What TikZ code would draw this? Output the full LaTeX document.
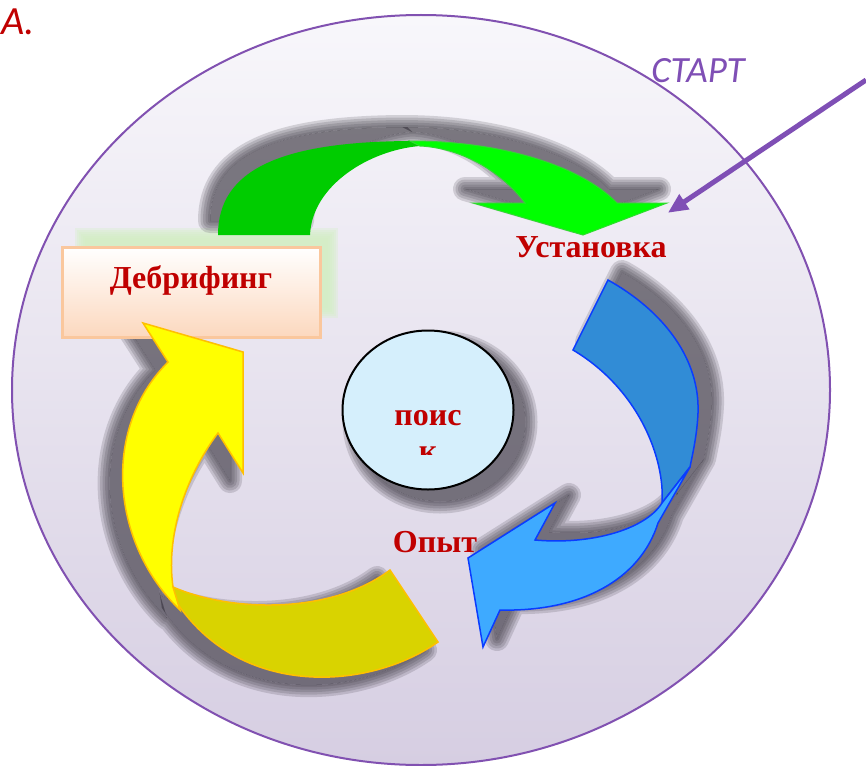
\documentclass[tikz,border=0pt]{standalone}
\usepackage{fontspec}
\setmainfont{Liberation Serif}
\newfontfamily\calfont{Carlito}
\usetikzlibrary{positioning,shapes.geometric,arrows.meta,calc}

\definecolor{labelred}{HTML}{C00000}
\definecolor{startviolet}{HTML}{7F4FB5}
\definecolor{discborder}{HTML}{8151B1}
\definecolor{disctop}{HTML}{F8F7FB}
\definecolor{discbottom}{HTML}{D6CEE2}
\definecolor{boxborder}{HTML}{FAC79D}
\definecolor{boxpeach}{HTML}{FCD8BE}
\definecolor{glowgreen}{HTML}{D3F0C3}
\definecolor{greendark}{HTML}{00CC00}
\definecolor{greenlight}{HTML}{00FF00}
\definecolor{greenline}{HTML}{2EDC2E}
\definecolor{bluedark}{HTML}{318CD6}
\definecolor{bluelight}{HTML}{3EAAFF}
\definecolor{blueline}{HTML}{0A3CFF}
\definecolor{yellowlight}{HTML}{FFFF00}
\definecolor{yellowdark}{HTML}{D9D300}
\definecolor{yellowline}{HTML}{FFC000}
\definecolor{circlefill}{HTML}{D5EFFC}
\definecolor{shadowgray}{HTML}{3A3640}

% arrow outlines, pixel coordinates with y going down
\newcommand{\greentail}{(218,235) .. controls (218,170) and (280,141) .. (415,141) -- (420,146) .. controls (370,150) and (312,185) .. (310,235) -- cycle}
\newcommand{\greenhead}{(410,141) .. controls (500,141) and (580,165) .. (617,203) -- (667,203) -- (583,235) -- (473,203) -- (525,203) .. controls (500,170) and (460,148) .. (420,146) -- cycle}
\newcommand{\bluetail}{(608,280) .. controls (665,312) and (700,360) .. (698,413) .. controls (697,435) and (693,452) .. (690,467) -- (662,503) .. controls (665,460) and (640,390) .. (573,350) -- cycle}
\newcommand{\bluehead}{(690,467) -- (658,523) .. controls (640,580) and (580,612) .. (500,610) -- (483,647) -- (468,558) -- (555,503) -- (535,540) .. controls (590,545) and (645,530) .. (662,503) -- cycle}
\newcommand{\yellowtail}{(173,587) .. controls (230,612) and (330,615) .. (390,570) -- (438,642) .. controls (370,690) and (240,700) .. (175,600) -- cycle}
\newcommand{\yellowhead}{(168,362) -- (143,323) -- (243,352) -- (243,473) -- (218,433) .. controls (190,470) and (165,530) .. (173,587) -- (180,610) .. controls (112,545) and (100,430) .. (168,362) -- cycle}

% soft shadow: shift x, shift y, path
\newcommand{\softshadow}[3]{%
  \begin{scope}[shift={(#1,#2)}]
    \fill [shadowgray, opacity=0.65] #3;
    \begin{scope}[even odd rule]
      \clip (-200,-200) rectangle (1100,1000) #3;
      \foreach \w in {4,9,14,19,24}
        \draw [shadowgray, opacity=0.18, line width=\w pt, line join=round] #3;
    \end{scope}
  \end{scope}}

\begin{document}
\begin{tikzpicture}[x=1pt, y=-1pt]

    % Define styles
    \tikzstyle{phase} = [font=\fontsize{32}{36}\selectfont\bfseries, text=labelred, inner sep=0pt]
    \tikzstyle{disc} = [ellipse, draw=discborder, line width=2pt, top color=disctop, bottom color=discbottom, minimum width=818pt, minimum height=750pt, inner sep=0pt]
    \tikzstyle{debriefbox} = [rectangle, draw=boxborder, line width=3pt, top color=white, bottom color=boxpeach, minimum width=258pt, minimum height=90pt, text height=22pt, text depth=30pt, phase]
    \tikzstyle{searchdisc} = [ellipse, draw=black, line width=2pt, fill=circlefill, minimum width=171pt, minimum height=159pt, inner sep=0pt]
    \tikzstyle{startarrow} = [draw=startviolet, line width=5pt, -{Triangle[length=20pt, width=17pt]}]

    \useasboundingbox (0,0) rectangle (866,765);

    % Background disc
    \node [disc] (outer) at (421,390) {};

    % Green glow behind the box
    \foreach \g in {0,2,...,10}
        \fill [glowgreen, opacity=0.3] (75+\g,228+\g) rectangle (338-\g,318-\g);

    % Shadows of the arrows
    \softshadow{-8}{-14}{\greentail \greenhead}
    \softshadow{14}{-8}{\bluetail \bluehead}
    \softshadow{-13}{8}{\yellowtail \yellowhead}

    % Debriefing box
    \node [debriefbox] (debrief) at (191,292) {Дебрифинг};

    % Cycle arrows
    \fill [greendark] \greentail;
    \filldraw [fill=greenlight, draw=greenline, line width=1pt] \greenhead;
    \filldraw [fill=bluedark, draw=blueline, line width=1.5pt] \bluetail;
    \filldraw [fill=bluelight, draw=blueline, line width=1.5pt] \bluehead;
    \filldraw [fill=yellowdark, draw=yellowline, line width=1.5pt] \yellowtail;
    \filldraw [fill=yellowlight, draw=yellowline, line width=1.5pt] \yellowhead;

    % Centre
    \softshadow{12}{12}{(428,410) ellipse [x radius=85.5, y radius=79.5]}
    \node [searchdisc] (search) at (428,410) {};
    \begin{scope}
        \clip ($(search.north)+(-90,0)$) rectangle ($(search.east)+(0,44)$);
        \node [phase, align=center, anchor=base] (searchtext) at (428,461) {поис\\к};
    \end{scope}

    % Labels
    \node [phase, anchor=base] (ust) at (591,257) {Установка};
    \node [phase, anchor=base] (exp) at (435,552) {Опыт};
    \node [font=\calfont\itshape\fontsize{37}{42}\selectfont, text=startviolet, inner sep=0pt, anchor=base] (start) at (698,83) {СТАРТ};
    \node [font=\calfont\itshape\fontsize{40}{46}\selectfont, text=labelred, inner sep=0pt, anchor=base west] (variant) at (1,35) {А.};

    % Start arrow
    \coordinate (startpt) at (866,80);
    \draw [startarrow] (startpt) -- ($(ust.north east)+(1,-23)$);

\end{tikzpicture}
\end{document}
